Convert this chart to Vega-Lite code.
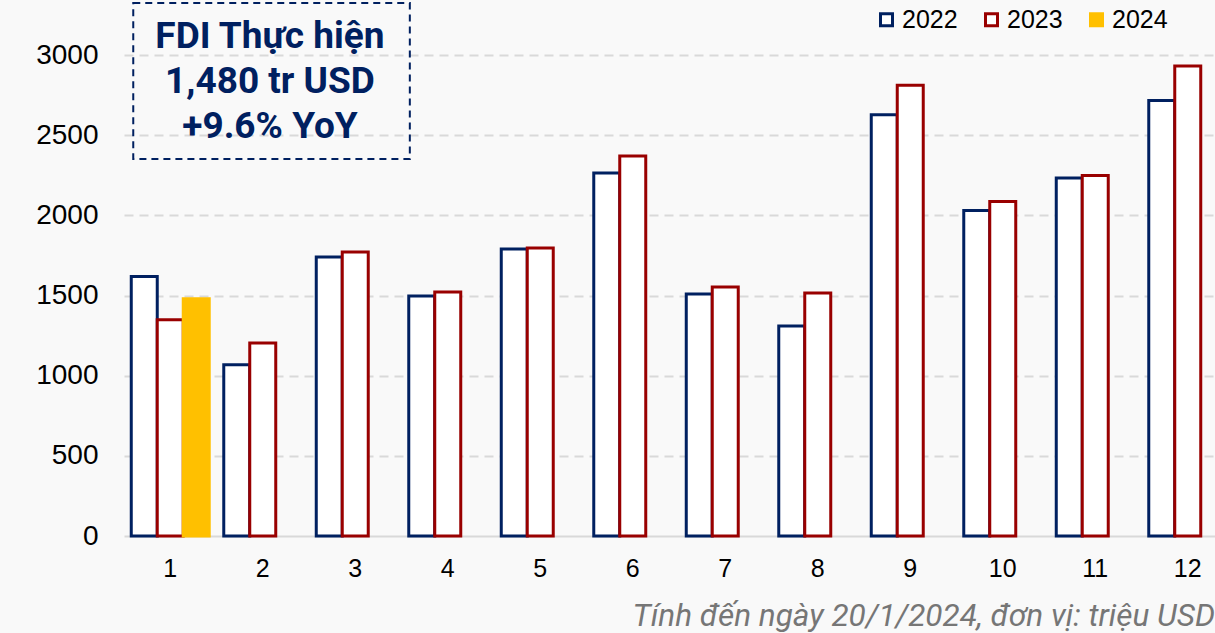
{
  "$schema": "https://vega.github.io/schema/vega-lite/v6.json",
  "width": 1091,
  "height": 481,
  "autosize": {"type": "none"},
  "padding": {"left": 124, "top": 55, "right": 0, "bottom": 97},
  "background": "#f9f9f9",
  "title": {
    "text": "Tính đến ngày 20/1/2024, đơn vị: triệu USD",
    "orient": "bottom",
    "anchor": "end",
    "frame": "group",
    "font": "Roboto",
    "fontSize": 31.5,
    "fontStyle": "italic",
    "fontWeight": "normal",
    "color": "#767676",
    "offset": 20
  },
  "config": {
    "view": {"stroke": null},
    "font": "Liberation Sans"
  },
  "resolve": {"scale": {"x": "independent"}},
  "layer": [
    {
      "data": {
        "values": [
          {"month": "1", "year": "2022", "value": 1618},
          {"month": "1", "year": "2023", "value": 1348},
          {"month": "1", "year": "2024", "value": 1480},
          {"month": "2", "year": "2022", "value": 1068},
          {"month": "2", "year": "2023", "value": 1203},
          {"month": "3", "year": "2022", "value": 1740},
          {"month": "3", "year": "2023", "value": 1771},
          {"month": "4", "year": "2022", "value": 1497},
          {"month": "4", "year": "2023", "value": 1522},
          {"month": "5", "year": "2022", "value": 1790},
          {"month": "5", "year": "2023", "value": 1796},
          {"month": "6", "year": "2022", "value": 2264},
          {"month": "6", "year": "2023", "value": 2370},
          {"month": "7", "year": "2022", "value": 1509},
          {"month": "7", "year": "2023", "value": 1553},
          {"month": "8", "year": "2022", "value": 1310},
          {"month": "8", "year": "2023", "value": 1516},
          {"month": "9", "year": "2022", "value": 2628},
          {"month": "9", "year": "2023", "value": 2812},
          {"month": "10", "year": "2022", "value": 2030},
          {"month": "10", "year": "2023", "value": 2086},
          {"month": "11", "year": "2022", "value": 2233},
          {"month": "11", "year": "2023", "value": 2248},
          {"month": "12", "year": "2022", "value": 2716},
          {"month": "12", "year": "2023", "value": 2931}
        ]
      },
      "mark": {"type": "bar", "strokeWidth": 3, "cornerRadius": 0},
      "encoding": {
        "x": {
          "field": "month",
          "type": "nominal",
          "sort": ["1","2","3","4","5","6","7","8","9","10","11","12"],
          "scale": {"range": [0, 1110], "paddingInner": 0.157, "paddingOuter": 0.0785},
          "axis": {
            "title": null,
            "labelAngle": 0,
            "labelFontSize": 25,
            "labelFontWeight": "normal",
            "labelColor": "#000000",
            "labelFont": "Liberation Sans",
            "ticks": false,
            "domain": false,
            "labelPadding": 20
          }
        },
        "xOffset": {
          "field": "year",
          "type": "nominal",
          "scale": {"domain": ["2022", "2023", "2024"], "paddingInner": 0, "paddingOuter": 0}
        },
        "y": {
          "field": "value",
          "type": "quantitative",
          "scale": {"domain": [0, 3000], "nice": false},
          "axis": {
            "title": null,
            "values": [0, 500, 1000, 1500, 2000, 2500, 3000],
            "format": "d",
            "labelFontSize": 28,
            "labelFontWeight": "normal",
            "labelColor": "#000000",
            "labelFont": "Liberation Sans",
            "ticks": false,
            "domain": false,
            "labelPadding": 26,
            "grid": true,
            "gridColor": "#d9d9d9",
            "gridWidth": 2,
            "gridDash": {"condition": {"test": "datum.value === 0", "value": []}, "value": [9, 6]}
          }
        },
        "fill": {
          "field": "year",
          "type": "nominal",
          "scale": {"domain": ["2022", "2023", "2024"], "range": ["#ffffff", "#ffffff", "#ffc000"]},
          "legend": {
            "title": null,
            "orient": "none",
            "direction": "horizontal",
            "legendX": 750,
            "legendY": -48,
            "padding": 0,
            "symbolType": "square",
            "symbolSize": 144,
            "symbolStrokeWidth": 3,
            "labelFontSize": 25,
            "labelFontWeight": "normal",
            "labelColor": "#000000",
            "labelFont": "Liberation Sans",
            "labelOffset": 3,
            "columnPadding": 21
          }
        },
        "stroke": {
          "field": "year",
          "type": "nominal",
          "scale": {"domain": ["2022", "2023", "2024"], "range": ["#002060", "#990000", "#ffc000"]}
        }
      }
    },
    {
      "data": {"values": [{"x0": 0.1, "x1": 3.09, "y0": 2351, "y1": 3324}]},
      "mark": {"type": "rect", "fill": null, "stroke": "#002060", "strokeWidth": 2, "strokeDash": [7, 5]},
      "encoding": {
        "x": {"field": "x0", "type": "quantitative", "scale": {"domain": [0, 12], "range": [0, 1110], "nice": false, "zero": false}, "axis": null},
        "x2": {"field": "x1"},
        "y": {"field": "y0", "type": "quantitative", "scale": {"domain": [0, 3000], "nice": false}},
        "y2": {"field": "y1"}
      }
    },
    {
      "data": {
        "values": [
          {"x": 1.578, "y": 3044, "label": "FDI Thực hiện"},
          {"x": 1.578, "y": 2763, "label": "1,480 tr USD"},
          {"x": 1.578, "y": 2482, "label": "+9.6% YoY"}
        ]
      },
      "mark": {"type": "text", "font": "Roboto", "fontWeight": "bold", "fontSize": 37, "color": "#002060", "align": "center", "baseline": "alphabetic"},
      "encoding": {
        "x": {"field": "x", "type": "quantitative", "scale": {"domain": [0, 12], "range": [0, 1110], "nice": false, "zero": false}, "axis": null},
        "y": {"field": "y", "type": "quantitative", "scale": {"domain": [0, 3000], "nice": false}},
        "text": {"field": "label"}
      }
    }
  ]
}
